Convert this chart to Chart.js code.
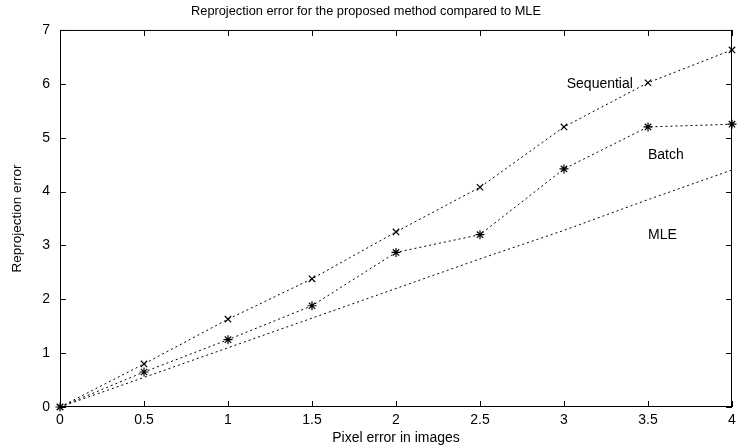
<!DOCTYPE html>
<html>
<head>
<meta charset="utf-8">
<script src="https://cdn.jsdelivr.net/npm/chart.js@4/dist/chart.umd.min.js"></script>
<style>
  html, body { margin: 0; padding: 0; background: #fff; }
  #wrap { width: 738px; height: 448px; }
</style>
</head>
<body>
<div id="wrap"><canvas id="chart" width="738" height="448"></canvas></div>
<script>
// Data
const pixelError = [0, 0.5, 1, 1.5, 2, 2.5, 3, 3.5, 4];
const sequential = [0, 0.8, 1.63, 2.38, 3.25, 4.08, 5.2, 6.02, 6.63];
const batch = [0, 0.65, 1.25, 1.88, 2.87, 3.2, 4.42, 5.2, 5.25];
const mle = [0, 0.55, 1.1, 1.65, 2.2, 2.75, 3.28, 3.85, 4.4];

const seriesNames = ['Sequential', 'Batch', 'MLE'];
// where each series name sits, in data units
const labelAnchors = [
  {x: 3.41, y: 5.99, align: 'right'},
  {x: 3.5, y: 4.67, align: 'left'},
  {x: 3.5, y: 3.19, align: 'left'}
];

const FONT = '"Liberation Sans", Arial, Helvetica, sans-serif';

function toPoints(values) {
  return pixelError.map((x, i) => ({x: x, y: values[i]}));
}

// gnuplot style frame with inward ticks on all four sides
const framePlugin = {
  id: 'frame',
  afterDraw(chart) {
    const ctx = chart.ctx;
    const a = chart.chartArea;
    const xs = chart.scales.x;
    const ys = chart.scales.y;
    const len = 6;
    ctx.save();
    ctx.strokeStyle = '#000';
    ctx.lineWidth = 1;
    ctx.strokeRect(a.left + 0.5, a.top + 0.5, a.right - a.left - 1, a.bottom - a.top - 1);
    ctx.beginPath();
    xs.ticks.forEach(t => {
      const px = Math.round(xs.getPixelForValue(t.value)) + 0.5;
      ctx.moveTo(px, a.bottom);
      ctx.lineTo(px, a.bottom - len);
      ctx.moveTo(px, a.top);
      ctx.lineTo(px, a.top + len);
    });
    ys.ticks.forEach(t => {
      const py = Math.round(ys.getPixelForValue(t.value)) + 0.5;
      ctx.moveTo(a.left, py);
      ctx.lineTo(a.left + len, py);
      ctx.moveTo(a.right, py);
      ctx.lineTo(a.right - len, py);
    });
    ctx.stroke();

    // series names next to the curves
    ctx.fillStyle = '#000';
    ctx.font = '14px ' + FONT;
    ctx.textBaseline = 'middle';
    seriesNames.forEach((name, i) => {
      const lab = labelAnchors[i];
      ctx.textAlign = lab.align;
      ctx.fillText(name, xs.getPixelForValue(lab.x), ys.getPixelForValue(lab.y));
    });
    ctx.restore();
  }
};

new Chart(document.getElementById('chart'), {
  type: 'scatter',
  data: {
    datasets: [
      {
        label: 'Sequential',
        data: toPoints(sequential),
        showLine: true,
        borderColor: '#000',
        borderWidth: 1,
        borderDash: [2, 3],
        pointStyle: 'crossRot',
        pointRadius: 4.5,
        pointBorderColor: '#000',
        pointBorderWidth: 1.2
      },
      {
        label: 'Batch',
        data: toPoints(batch),
        showLine: true,
        borderColor: '#000',
        borderWidth: 1,
        borderDash: [2, 3],
        pointStyle: 'star',
        pointRadius: 4.5,
        pointBorderColor: '#000',
        pointBorderWidth: 1.2
      },
      {
        label: 'MLE',
        data: toPoints(mle),
        showLine: true,
        borderColor: '#000',
        borderWidth: 1,
        borderDash: [2, 3],
        pointRadius: 0
      }
    ]
  },
  options: {
    responsive: false,
    animation: false,
    clip: false,
    layout: { padding: { top: 0, right: 6, bottom: 0, left: 0 } },
    plugins: {
      legend: { display: false },
      tooltip: { enabled: false },
      title: {
        display: true,
        text: 'Reprojection error for the proposed method compared to MLE',
        color: '#000',
        font: { family: FONT, size: 12.8, weight: 'normal' },
        padding: { top: 4, bottom: 10.6 }
      }
    },
    scales: {
      x: {
        type: 'linear',
        min: 0,
        max: 4,
        afterFit(scale) {
          scale.height = 41;
          scale.paddingLeft = 0;
          scale.paddingRight = 0;
        },
        ticks: {
          stepSize: 0.5,
          color: '#000',
          padding: 5,
          maxRotation: 0,
          font: { family: FONT, size: 14 },
          callback: v => String(v)
        },
        grid: { display: false, drawTicks: false },
        border: { display: false },
        title: {
          display: true,
          text: 'Pixel error in images',
          color: '#000',
          font: { family: FONT, size: 14 },
          padding: { top: 0, bottom: 1.6 }
        }
      },
      y: {
        type: 'linear',
        min: 0,
        max: 7,
        afterFit(scale) { scale.width = 60; },
        ticks: {
          stepSize: 1,
          color: '#000',
          padding: 10,
          font: { family: FONT, size: 14 },
          callback: v => String(v)
        },
        grid: { display: false, drawTicks: false },
        border: { display: false },
        title: {
          display: true,
          text: 'Reprojection error',
          color: '#000',
          font: { family: FONT, size: 13.5 },
          padding: { top: 9, bottom: 0 }
        }
      }
    }
  },
  plugins: [framePlugin]
});
</script>
</body>
</html>
